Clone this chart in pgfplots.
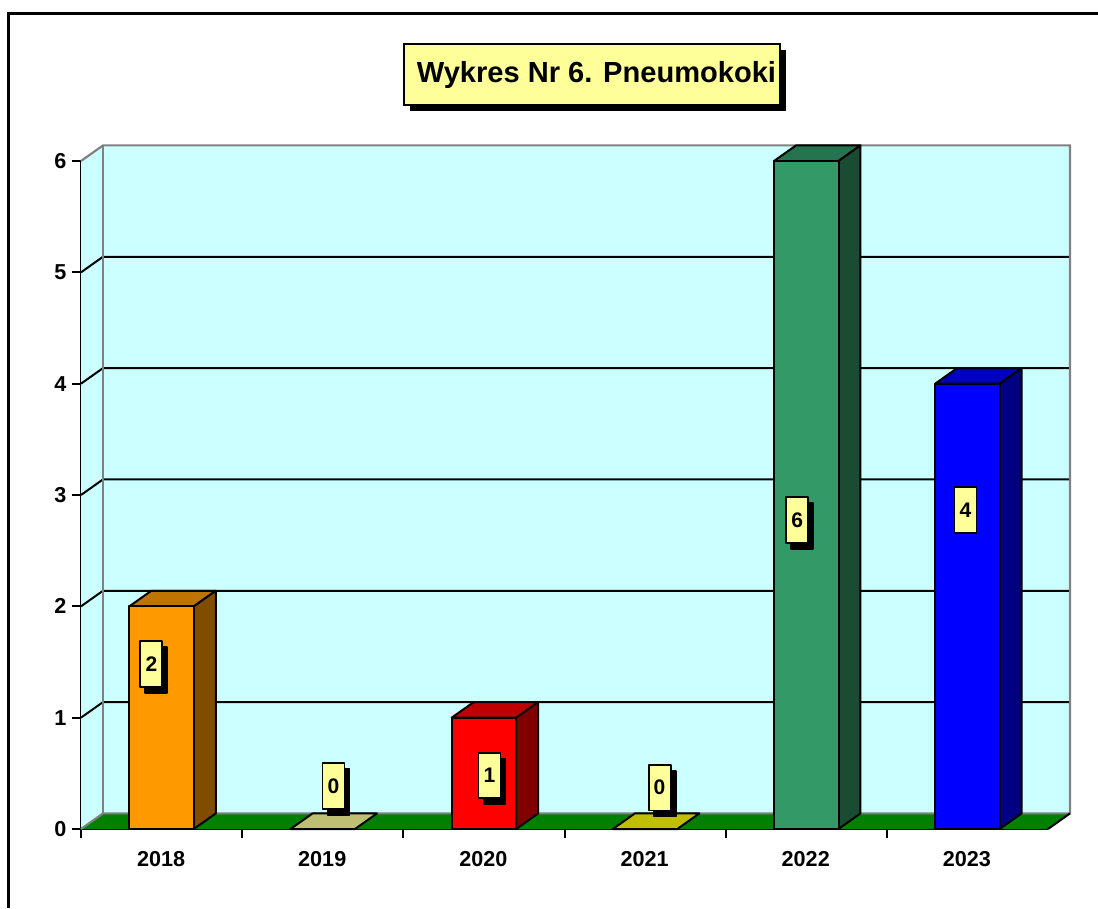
\documentclass[border=0pt]{standalone}
\usepackage{fontspec}
\setmainfont{Liberation Sans}
\usepackage{pgfplots}
\pgfplotsset{compat=1.18}
\usetikzlibrary{shadows}
\newlength\px
\setlength\px{0.75pt}

\definecolor{wall}{HTML}{CCFFFF}
\definecolor{floorgreen}{HTML}{008000}
\definecolor{boxyellow}{HTML}{FFFF99}
\definecolor{wallgrey}{HTML}{808080}
\definecolor{orangeF}{HTML}{FF9900}
\definecolor{orangeT}{HTML}{BF7300}
\definecolor{orangeS}{HTML}{804C00}
\definecolor{tanT}{HTML}{BFBF73}
\definecolor{redF}{HTML}{FF0000}
\definecolor{redT}{HTML}{BF0000}
\definecolor{redS}{HTML}{800000}
\definecolor{yellowT}{HTML}{BFBF00}
\definecolor{greenF}{HTML}{339966}
\definecolor{greenT}{HTML}{267350}
\definecolor{greenS}{HTML}{1A4C33}
\definecolor{blueF}{HTML}{0000FF}
\definecolor{blueT}{HTML}{0000BF}
\definecolor{blueS}{HTML}{000080}

\tikzset{
  plainbox/.style={
    draw=black, line width=1.4pt, fill=boxyellow, anchor=center,
    minimum width=22\px, minimum height=45.5\px, inner sep=0pt,
    font=\fontsize{15.8}{18}\selectfont\bfseries,
  },
  labelbox/.style={
    plainbox,
    drop shadow={shadow xshift=5\px, shadow yshift=-6\px, fill=black, opacity=1},
  },
}

\begin{document}
\begin{tikzpicture}
  % page is 1098x908, axis box starts at the front lower left corner of the floor
  \useasboundingbox (-81\px,-79\px) rectangle (1017\px,829\px);
  \fill[white] (-81\px,-79\px) rectangle (1017\px,829\px);
  \draw[line width=3.2\px,miter limit=10] (-72.2\px,-79\px) -- (-72.2\px,815.5\px) -- (1017\px,815.5\px);

  \begin{axis}[
    at={(0,0)}, anchor=south west,
    scale only axis,
    width=967\px, height=668\px,
    xmin=0, xmax=6, ymin=0, ymax=6,
    clip=false,
    axis lines=left,
    axis line style={-, line width=1.7pt},
    tick align=outside,
    tick style={black, line width=1.5pt},
    major tick length=9\px,
    xtick={0,1,2,3,4,5},
    xticklabels={},
    extra x ticks={0.5,1.5,2.5,3.5,4.5,5.5},
    extra x tick labels={2018,2019,2020,2021,2022,2023},
    extra x tick style={major tick length=0pt, tick style={draw=none}},
    ytick={0,1,2,3,4,5,6},
    /pgf/number format/assume math mode=true,
    tick label style={font=\fontsize{16.2}{18}\selectfont\bfseries},
    xticklabel style={yshift=-18\px, xshift=-0.5\px},
    yticklabel style={xshift=-1\px},
    title={\hspace{9\px}\raisebox{-2.5\px}{Wykres Nr 6. Pneumokoki}},
    title style={
      at={(0.5284,1.1175)}, anchor=center,
      font=\fontsize{21.8}{24}\selectfont\bfseries,
      draw=black, line width=1.2pt, fill=boxyellow,
      minimum width=376\px, minimum height=61\px, inner sep=0pt,
      drop shadow={shadow xshift=6\px, shadow yshift=-6\px, fill=black, opacity=1},
    },
    barbase/.style={ybar, bar width=64.5\px, bar shift=0pt, draw=black, line width=1.5pt,
      line join=round, nodes near coords},
  ]

  % walls and floor
  \addplot[fill=wall, draw=none] coordinates {(0.1365,0.14) (6.1365,0.14) (6.1365,6.14) (0.1365,6.14)} --cycle;
  \addplot[fill=wall, draw=none] coordinates {(0,0) (0.1365,0.14) (0.1365,6.14) (0,6)} --cycle;
  \addplot[fill=floorgreen, draw=none] coordinates {(0,0) (0.1365,0.14) (6.1365,0.14) (6,0)} --cycle;

  % grid lines running round the walls
  \addplot[black, line width=1.5pt] coordinates {(0,1) (0.1365,1.14) (6.1365,1.14)};
  \addplot[black, line width=1.5pt] coordinates {(0,2) (0.1365,2.14) (6.1365,2.14)};
  \addplot[black, line width=1.5pt] coordinates {(0,3) (0.1365,3.14) (6.1365,3.14)};
  \addplot[black, line width=1.5pt] coordinates {(0,4) (0.1365,4.14) (6.1365,4.14)};
  \addplot[black, line width=1.5pt] coordinates {(0,5) (0.1365,5.14) (6.1365,5.14)};

  % wall edges
  \addplot[wallgrey, line width=1.6pt] coordinates {(0,6) (0.1365,6.14) (6.1365,6.14) (6.1365,0.14) (0.1365,0.14) (0,0)};
  \addplot[wallgrey, line width=1.6pt] coordinates {(0.1365,0.14) (0.1365,6.14)};
  \addplot[black, line width=1.5pt] coordinates {(6,0) (6.1365,0.14)};

  % 2018
  \addplot[fill=orangeT, draw=black, line width=1.5pt, line join=round] coordinates {(0.3,2) (0.7,2) (0.8365,2.14) (0.4365,2.14)} --cycle;
  \addplot[fill=orangeS, draw=black, line width=1.5pt, line join=round] coordinates {(0.7,0) (0.8365,0.14) (0.8365,2.14) (0.7,2)} --cycle;
  % 2019
  \addplot[fill=tanT, draw=black, line width=1.5pt, line join=round] coordinates {(1.3,0) (1.7,0) (1.8365,0.14) (1.4365,0.14)} --cycle;
  % 2020
  \addplot[fill=redT, draw=black, line width=1.5pt, line join=round] coordinates {(2.3,1) (2.7,1) (2.8365,1.14) (2.4365,1.14)} --cycle;
  \addplot[fill=redS, draw=black, line width=1.5pt, line join=round] coordinates {(2.7,0) (2.8365,0.14) (2.8365,1.14) (2.7,1)} --cycle;
  % 2021
  \addplot[fill=yellowT, draw=black, line width=1.5pt, line join=round] coordinates {(3.3,0) (3.7,0) (3.8365,0.14) (3.4365,0.14)} --cycle;
  % 2022
  \addplot[fill=greenT, draw=black, line width=1.5pt, line join=round] coordinates {(4.3,6) (4.7,6) (4.8365,6.14) (4.4365,6.14)} --cycle;
  \addplot[fill=greenS, draw=black, line width=1.5pt, line join=round] coordinates {(4.7,0) (4.8365,0.14) (4.8365,6.14) (4.7,6)} --cycle;
  % 2023
  \addplot[fill=blueT, draw=black, line width=1.5pt, line join=round] coordinates {(5.3,4) (5.7,4) (5.8365,4.14) (5.4365,4.14)} --cycle;
  \addplot[fill=blueS, draw=black, line width=1.5pt, line join=round] coordinates {(5.7,0) (5.8365,0.14) (5.8365,4.14) (5.7,4)} --cycle;

  % front faces, each carries its value box
  \addplot[barbase, fill=orangeF, every node near coord/.style={labelbox, xshift=-10.2\px, yshift=-57.5\px}] coordinates {(0.5,2)};
  \addplot[barbase, fill=tanT, every node near coord/.style={labelbox, xshift=10.8\px, yshift=43\px}] coordinates {(1.5,0)};
  \addplot[barbase, fill=redF, every node near coord/.style={labelbox, xshift=5.6\px, yshift=-58\px}] coordinates {(2.5,1)};
  \addplot[barbase, fill=yellowT, every node near coord/.style={labelbox, xshift=14.5\px, yshift=41.3\px}] coordinates {(3.5,0)};
  \addplot[barbase, fill=greenF, every node near coord/.style={labelbox, xshift=-9\px, yshift=-359\px}] coordinates {(4.5,6)};
  \addplot[barbase, fill=blueF, every node near coord/.style={plainbox, xshift=-1.9\px, yshift=-126.5\px}] coordinates {(5.5,4)};
  \end{axis}
\end{tikzpicture}
\end{document}
